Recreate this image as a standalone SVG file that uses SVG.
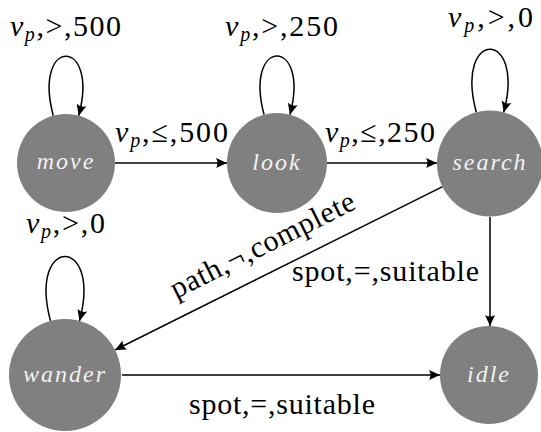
<svg xmlns="http://www.w3.org/2000/svg" width="541" height="432" viewBox="0 0 541 432">
<style>
.node{fill:#808080;}
.nl{font-family:"Liberation Serif",serif;font-style:italic;font-size:24px;fill:#f2f2f2;text-anchor:middle;letter-spacing:2px;}
.lb{font-family:"Liberation Serif",serif;font-size:30px;fill:#000;}
.it{font-style:italic;}
.sub{font-style:italic;font-size:20px;}
.edge{fill:none;stroke:#000;stroke-width:1.5;marker-end:url(#arr);}
</style>
<defs>
<marker id="arr" markerUnits="userSpaceOnUse" markerWidth="14" markerHeight="12" refX="12" refY="6" orient="auto">
<path d="M12,6 L1,1 Q4,6 1,11 Z" fill="#000"/>
</marker>
</defs>
<g id="edges">
<path class="edge" d="M115,163 L227,163"/>
<path class="edge" d="M327,163 L437,163"/>
<path class="edge" d="M490,217 L490,326"/>
<path class="edge" d="M442.6,186.6 L115,350"/>
<path class="edge" d="M122,375 L440,375"/>
<path class="edge" d="M53.3,115.7 C32.1,36.5 99.9,36.5 78.7,115.7"/>
<path class="edge" d="M264.1,114.7 C243.1,36.5 310.9,36.5 289.9,114.7"/>
<path class="edge" d="M476.3,112.3 C453.8,28.3 526.2,28.3 503.7,112.3"/>
<path class="edge" d="M50.5,320.9 C27.5,234.9 102.5,234.9 79.5,320.9"/>
</g>
<g id="labels">
<text class="lb" x="10" y="36" textLength="111"><tspan class="it">v</tspan><tspan class="sub" dy="5">p</tspan><tspan dy="-5">,&gt;,500</tspan></text>
<text class="lb" x="225" y="36" textLength="113"><tspan class="it">v</tspan><tspan class="sub" dy="5">p</tspan><tspan dy="-5">,&gt;,250</tspan></text>
<text class="lb" x="448" y="27" textLength="85"><tspan class="it">v</tspan><tspan class="sub" dy="5">p</tspan><tspan dy="-5">,&gt;,0</tspan></text>
<text class="lb" x="115" y="142" textLength="113"><tspan class="it">v</tspan><tspan class="sub" dy="5">p</tspan><tspan dy="-5">,≤,500</tspan></text>
<text class="lb" x="325" y="142" textLength="110"><tspan class="it">v</tspan><tspan class="sub" dy="5">p</tspan><tspan dy="-5">,≤,250</tspan></text>
<text class="lb" x="26" y="233" textLength="79"><tspan class="it">v</tspan><tspan class="sub" dy="5">p</tspan><tspan dy="-5">,&gt;,0</tspan></text>
<text class="lb" x="292" y="281" textLength="187">spot,=,suitable</text>
<text class="lb" x="189" y="414" textLength="186">spot,=,suitable</text>
<text class="lb" transform="translate(176,299) rotate(-26.6)" textLength="203">path,¬,complete</text>
</g>
<g id="move"><circle class="node" cx="66" cy="163" r="49"/><text class="nl" x="66" y="169">move</text></g>
<g id="look"><circle class="node" cx="277" cy="163" r="50"/><text class="nl" x="277" y="170">look</text></g>
<g id="search"><circle class="node" cx="490" cy="163.5" r="53"/><text class="nl" x="490" y="170">search</text></g>
<g id="wander"><circle class="node" cx="65" cy="375" r="56"/><text class="nl" x="65" y="382">wander</text></g>
<g id="idle"><circle class="node" cx="489" cy="375" r="49"/><text class="nl" x="489" y="382">idle</text></g>
</svg>
